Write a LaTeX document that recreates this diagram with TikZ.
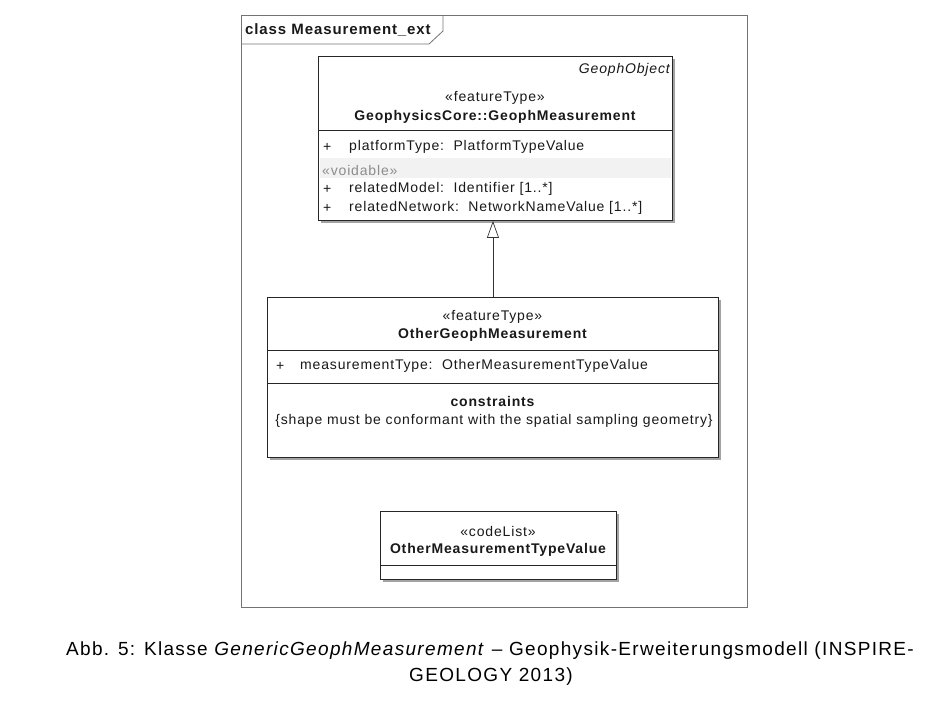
\documentclass[tikz,border=0pt]{standalone}
\usepackage{fontspec}
\setmainfont{Liberation Sans}
\newfontfamily\dfont[LetterSpace=6]{Liberation Sans}
\newfontfamily\cfont[LetterSpace=7]{Liberation Sans}
\usetikzlibrary{arrows.meta,shadows}
\begin{document}
\begin{tikzpicture}[x=1pt,y=-1pt,
  classbox/.style={draw=black!85,line width=0.9pt,fill=white,anchor=north west,inner sep=0pt,
    drop shadow={shadow xshift=2.5pt,shadow yshift=-2.5pt,fill=black!45,opacity=0.8}},
  txt/.style={inner sep=0pt,font=\dfont\fontsize{14}{16}\selectfont,text=black!90},
  btxt/.style={txt,font=\dfont\fontsize{14}{16}\selectfont\bfseries},
  div/.style={draw=black!85,line width=0.9pt},
  gen/.style={draw=black!80,line width=0.7pt,-{Triangle[open,length=17pt,width=12pt,fill=white]}},
  captxt/.style={inner sep=0pt,font=\cfont\fontsize{19}{22}\selectfont,text=black}
]
\useasboundingbox (0,0) rectangle (941,704);
% frame
\draw[black!55,line width=0.8pt] (241,15) rectangle (747,607);
\draw[black!55,line width=0.8pt] (241,44) -- (429,44) -- (443,31) -- (443,15);
\node[btxt,anchor=west,font=\dfont\fontsize{15}{17}\selectfont\bfseries] (ft) at (245,30) {class Measurement\_ext};

% top class
\node[classbox,minimum width=354pt,minimum height=164pt] (gm) at (318,56) {};
\node[txt,anchor=east,font=\dfont\fontsize{14}{16}\selectfont\itshape] (go) at (670,70) {GeophObject};
\node[txt] (gst) at (495,98) {«featureType»};
\node[btxt] (gnm) at (495,116.5) {GeophysicsCore::GeophMeasurement};
\draw[div] (318,130) -- (672,130);
\node[txt,anchor=west] (gp1) at (323,147) {+};
\node[txt,anchor=west] (ga1) at (349,147) {platformType:\ \ PlatformTypeValue};
\fill[black!5] (319.5,158) rectangle (670.5,178);
\node[txt,anchor=west,text=black!45] (gvo) at (322,170) {«voidable»};
\node[txt,anchor=west] (gp2) at (323,189) {+};
\node[txt,anchor=west] (ga2) at (349,189) {relatedModel:\ \ Identifier [1..*]};
\node[txt,anchor=west] (gp3) at (323,208) {+};
\node[txt,anchor=west] (ga3) at (349,208) {relatedNetwork:\ \ NetworkNameValue [1..*]};

% middle class
\node[classbox,minimum width=451pt,minimum height=160pt] (ogm) at (267,297) {};
\node[txt] (ost) at (492.5,317) {«featureType»};
\node[btxt] (onm) at (492.5,335) {OtherGeophMeasurement};
\draw[div] (267,350) -- (718,350);
\node[txt,anchor=west] (op1) at (276,366) {+};
\node[txt,anchor=west] (oa1) at (300,366) {measurementType:\ \ OtherMeasurementTypeValue};
\draw[div] (267,383) -- (718,383);
\node[btxt] (oct) at (492.5,401) {constraints};
\node[txt] (oc1) at (494,421) {\{shape must be conformant with the spatial sampling geometry\}};

% generalization
\draw[gen] (ogm.north) -- (ogm.north |- gm.south);

% code list
\node[classbox,minimum width=236pt,minimum height=68pt] (cl) at (380,511) {};
\node[txt] (cst) at (498,531) {«codeList»};
\node[btxt] (cnm) at (498,550) {OtherMeasurementTypeValue};
\draw[div] (380,565) -- (616,565);

% caption
\node[captxt] (cap1) at (490,651) {Abb. 5: Klasse \textit{GenericGeophMeasurement} – Geophysik-Erweiterungsmodell (INSPIRE-};
\node[captxt] (cap2) at (491,677) {GEOLOGY 2013)};
\end{tikzpicture}
\end{document}
